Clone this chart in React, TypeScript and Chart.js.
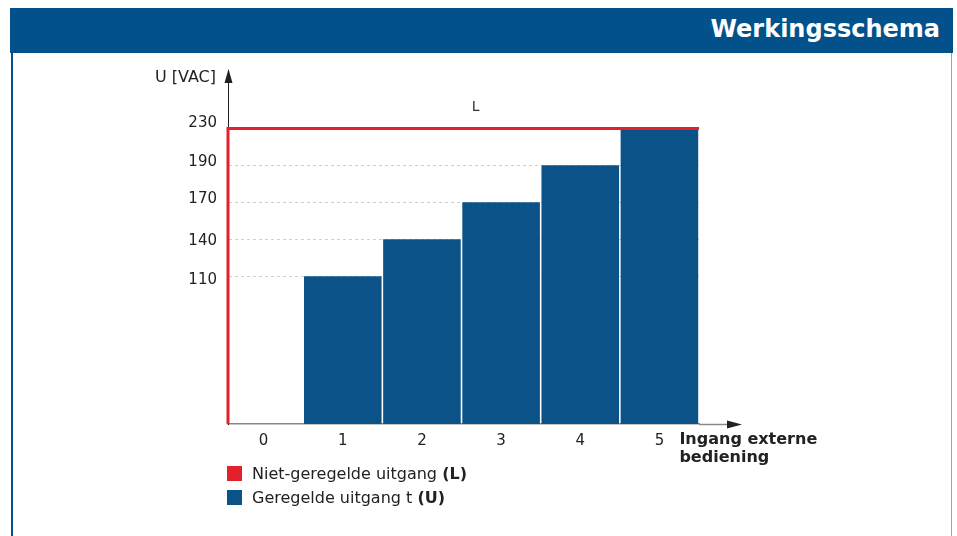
import React, { useEffect, useRef } from 'react';
import { Chart, registerables, LinearScale } from 'chart.js';

// ---- data ----
const xCategories = [0, 1, 2, 3, 4, 5];
const inputSteps = [1, 2, 3, 4, 5];
const regulatedVAC = [110, 140, 170, 190, 230];
const yTickValues = [110, 140, 170, 190, 230];
const unregulatedX = [-0.45, -0.45, 5.5];
const unregulatedVAC = [0, 230, 230];

// ---- schematic (non-linear) voltage axis: knot values and their visual levels ----
const knotValues = [0, 110, 140, 170, 190, 230];
const gridLevels = [0, 4, 5, 6, 7, 8];
const labelLevels = [0, 3.9, 4.94, 6.08, 7.08, 8.14];
const MAX_LEVEL = 9.58;

function interp(v: number, xs: number[], ys: number[]): number {
  for (let i = 1; i < xs.length; i++) {
    if (v <= xs[i] || i === xs.length - 1) {
      const x0 = xs[i - 1], x1 = xs[i];
      const y0 = ys[i - 1], y1 = ys[i];
      return y0 + ((v - x0) / (x1 - x0)) * (y1 - y0);
    }
  }
  return 0;
}

class PiecewiseScale extends LinearScale {
  static id = 'piecewise';
  static defaults = LinearScale.defaults;
  levels(): number[] {
    const l = (this.options as any).levels;
    return Array.isArray(l) ? l : gridLevels;
  }
  getPixelForValue(value: number) {
    if (value === null || value === undefined) return NaN;
    return this.getPixelForDecimal(interp(value, knotValues, this.levels()) / MAX_LEVEL);
  }
  getValueForPixel(pixel: number) {
    return interp(this.getDecimalForPixel(pixel) * MAX_LEVEL, this.levels(), knotValues);
  }
}

Chart.register(...registerables, PiecewiseScale as any);

const FONT = 'DejaVu Sans';
const TEXT = '#222';
const RED = '#e3212b';
const BLUE = '#0a5288';
const HEADER = '#03518a';

const decor = {
  id: 'decor',
  afterDraw(chart: any) {
    const { ctx, chartArea: a, scales } = chart;
    const x = scales.x;
    const y = scales.y;
    ctx.save();
    // y arrow head
    ctx.fillStyle = TEXT;
    ctx.beginPath();
    ctx.moveTo(a.left + 0.5, a.top - 1);
    ctx.lineTo(a.left - 3.5, a.top + 13);
    ctx.lineTo(a.left + 4.5, a.top + 13);
    ctx.closePath();
    ctx.fill();
    // x axis extension + arrow
    ctx.strokeStyle = '#888';
    ctx.lineWidth = 1.5;
    ctx.beginPath();
    ctx.moveTo(a.right, a.bottom + 0.5);
    ctx.lineTo(a.right + 30, a.bottom + 0.5);
    ctx.stroke();
    ctx.fillStyle = TEXT;
    ctx.beginPath();
    ctx.moveTo(a.right + 43, a.bottom + 0.5);
    ctx.lineTo(a.right + 28, a.bottom - 3.5);
    ctx.lineTo(a.right + 28, a.bottom + 4.5);
    ctx.closePath();
    ctx.fill();
    // y title
    ctx.fillStyle = TEXT;
    ctx.font = `16px "${FONT}"`;
    ctx.textAlign = 'right';
    ctx.textBaseline = 'middle';
    ctx.fillText('U [VAC]', a.left - 12, a.top + 8);
    // x title
    ctx.font = `bold 16px "${FONT}"`;
    ctx.textAlign = 'left';
    const tx = x.getPixelForValue(5) + 20;
    ctx.fillText('Ingang externe', tx, a.bottom + 16);
    ctx.fillText('bediening', tx, a.bottom + 34);
    // L label
    ctx.font = `14px "${FONT}"`;
    ctx.textAlign = 'center';
    ctx.fillStyle = '#333';
    ctx.fillText('L', x.getPixelForValue(2.68), y.getPixelForValue(230) - 21);
    ctx.restore();
  },
};

export default function App() {
  const ref = useRef<HTMLCanvasElement>(null);
  useEffect(() => {
    if (!ref.current) return;
    Chart.defaults.font.family = FONT;
    const chart = new Chart(ref.current, {
      type: 'bar',
      data: {
        datasets: [
          {
            type: 'line',
            label: 'Niet-geregelde uitgang (L)',
            data: unregulatedX.map((xv, i) => ({ x: xv, y: unregulatedVAC[i] })),
            borderColor: RED,
            borderWidth: 3,
            pointRadius: 0,
            tension: 0,
            fill: false,
            clip: false as any,
            order: 0,
          } as any,
          {
            type: 'bar',
            label: 'Geregelde uitgang t (U)',
            data: inputSteps.map((xv, i) => ({ x: xv, y: regulatedVAC[i] })),
            backgroundColor: BLUE,
            borderWidth: 0,
            barPercentage: 1,
            categoryPercentage: 0.98,
            order: 1,
          } as any,
        ],
      },
      options: {
        animation: false,
        responsive: false,
        layout: { padding: { left: 167, top: 70, right: 258, bottom: 52 } },
        plugins: { legend: { display: false }, tooltip: { enabled: false }, title: { display: false } },
        scales: {
          x: {
            type: 'linear',
            min: -0.45,
            max: 5.5,
            offset: false,
            afterBuildTicks: (s: any) => {
              s.ticks = xCategories.map((v) => ({ value: v }));
            },
            afterFit: (s: any) => {
              s.height = 60;
            },
            ticks: { font: { size: 15 }, color: TEXT, padding: 8, callback: (v: any) => String(v) },
            grid: { display: false, drawTicks: false },
            border: { color: '#888', width: 1.5 },
          },
          y: {
            type: 'piecewise' as any,
            position: 'left',
            min: 0,
            max: 230,
            afterBuildTicks: (s: any) => {
              s.ticks = yTickValues.map((v) => ({ value: v }));
            },
            afterFit: (s: any) => {
              s.width = 1;
            },
            ticks: { display: false },
            grid: { color: '#cfcfcf', lineWidth: 1, drawTicks: false },
            border: { color: TEXT, width: 1, dash: [3, 3] },
          } as any,
          yLabels: {
            type: 'piecewise' as any,
            position: 'left',
            levels: labelLevels,
            min: 0,
            max: 230,
            afterBuildTicks: (s: any) => {
              s.ticks = yTickValues.map((v) => ({ value: v }));
            },
            afterFit: (s: any) => {
              s.width = 60;
            },
            ticks: { font: { size: 15 }, color: TEXT, padding: 10, callback: (v: any) => String(v) },
            grid: { display: false, drawTicks: false },
            border: { display: false },
          } as any,
        },
      },
      plugins: [decor],
    } as any);
    return () => chart.destroy();
  }, []);

  const legendRow = (color: string, text: string, bold: string, top: number) => (
    <div style={{ position: 'absolute', left: 227, top, height: 15, display: 'flex', alignItems: 'center' }}>
      <div style={{ width: 15, height: 15, background: color, marginRight: 10 }} />
      <span style={{ fontSize: 16, color: TEXT, whiteSpace: 'nowrap', lineHeight: '15px' }}>
        {text} <b>{bold}</b>
      </span>
    </div>
  );

  return (
    <div
      style={{
        position: 'absolute',
        left: 0,
        top: 0,
        width: 957,
        height: 536,
        overflow: 'hidden',
        background: '#fff',
        fontFamily: `"${FONT}"`,
      }}
    >
      <div
        style={{
          position: 'absolute',
          left: 10,
          top: 8,
          width: 943,
          height: 45,
          background: HEADER,
          color: '#fff',
          fontWeight: 'bold',
          fontSize: 24,
          lineHeight: '43px',
          textAlign: 'right',
          paddingRight: 13,
          boxSizing: 'border-box',
        }}
      >
        Werkingsschema
      </div>
      <div style={{ position: 'absolute', left: 11, top: 53, width: 1.5, height: 490, background: HEADER }} />
      <div style={{ position: 'absolute', left: 951, top: 53, width: 1, height: 490, background: '#8aa8c6' }} />
      <canvas
        ref={ref}
        width={957}
        height={536}
        style={{ position: 'absolute', left: 0, top: 0, width: 957, height: 536 }}
      />
      {legendRow(RED, 'Niet-geregelde uitgang', '(L)', 466)}
      {legendRow(BLUE, 'Geregelde uitgang t', '(U)', 490)}
    </div>
  );
}
